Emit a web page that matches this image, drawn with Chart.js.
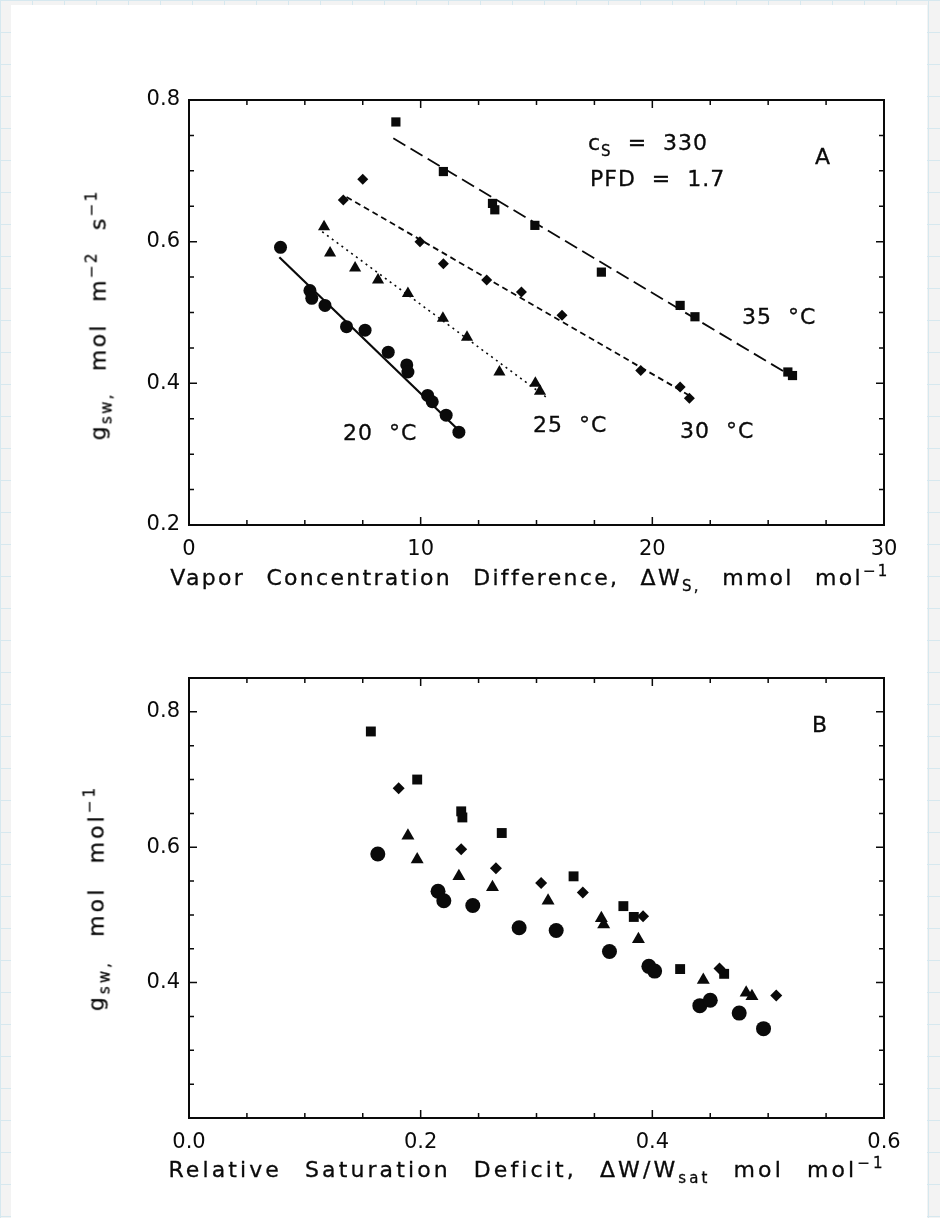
<!DOCTYPE html>
<html>
<head>
<meta charset="utf-8">
<script src="https://cdn.jsdelivr.net/npm/chart.js@4"></script>
<style>
  html, body { margin: 0; padding: 0; }
  body {
    width: 940px; height: 1218px; overflow: hidden; position: relative;
    background-color: #f3f3f3;
    background-image:
      linear-gradient(to right, #d6e8ef 1px, transparent 1px),
      linear-gradient(to bottom, #d6e8ef 1px, transparent 1px);
    background-size: 32px 32px;
    font-family: "DejaVu Sans", sans-serif;
    color: #0a0a0a;
  }
  .sheet { position: absolute; left: 11px; top: 5px; width: 916px; height: 1213px; background: #fff; }
  canvas { position: absolute; left: 0; }
  #chartA { top: 0; }
  #chartB { top: 610px; }
  .txt { position: absolute; white-space: nowrap; transform: translate(-50%, -50%); font-size: 22px; -webkit-text-stroke: 0.3px #0a0a0a; }
  .note { transform: translate(0, -50%); font-size: 22px; letter-spacing: 1px; }
  .ttl { letter-spacing: 2.3px; word-spacing: 12px; }
  .ttlB { letter-spacing: 3.1px; word-spacing: 13px; }
  .rot { transform: translate(-50%, -50%) rotate(-90deg); }
  sub { font-size: 15px; vertical-align: -6px; }
  sup { font-size: 15px; vertical-align: 9px; }
</style>
</head>
<body>
<div class="sheet"></div>
<canvas id="chartA" width="940" height="610"></canvas>
<canvas id="chartB" width="940" height="608"></canvas>

<div class="txt rot ttl" style="left:99px; top:315px;">g<sub>sw,</sub> mol m<sup>−2</sup> s<sup>−1</sup></div>
<div class="txt ttl" style="left:530px; top:578px;">Vapor Concentration Difference, ΔW<sub>S,</sub> mmol mol<sup>−1</sup></div>
<div class="txt note" style="left:588px; top:145px;">c<sub>S</sub> &nbsp;= &nbsp;330</div>
<div class="txt note" style="left:590px; top:178px;">PFD &nbsp;= &nbsp;1.7</div>
<div class="txt note" style="left:815px; top:156px;">A</div>
<div class="txt note" style="left:742px; top:316px;">35 &nbsp;°C</div>
<div class="txt note" style="left:680px; top:430px;">30 &nbsp;°C</div>
<div class="txt note" style="left:533px; top:424px;">25 &nbsp;°C</div>
<div class="txt note" style="left:343px; top:432px;">20 &nbsp;°C</div>

<div class="txt rot ttlB" style="left:97px; top:898px;">g<sub>sw,</sub> mol mol<sup>−1</sup></div>
<div class="txt ttlB" style="left:527px; top:1170px;">Relative Saturation Deficit, ΔW/W<sub>sat</sub> mol mol<sup>−1</sup></div>
<div class="txt note" style="left:812px; top:724px;">B</div>

<script>
// Panel A: g_sw vs vapour concentration difference, one series per leaf temperature
const dw20 = [3.95, 5.22, 5.3, 5.87, 6.8, 7.6, 8.6, 9.4, 9.45, 10.3, 10.5, 11.1, 11.65];
const gsw20 = [0.592, 0.531, 0.52, 0.51, 0.48, 0.475, 0.444, 0.426, 0.416, 0.383, 0.374, 0.355, 0.331];
const dw25 = [5.83, 6.09, 7.17, 8.16, 9.45, 10.96, 12.0, 13.4, 14.95, 15.15];
const gsw25 = [0.621, 0.584, 0.563, 0.546, 0.527, 0.492, 0.465, 0.416, 0.400, 0.389];
const dw30 = [6.66, 7.5, 9.97, 10.98, 12.85, 14.35, 16.1, 19.5, 21.2, 21.6];
const gsw30 = [0.659, 0.688, 0.600, 0.569, 0.546, 0.529, 0.496, 0.418, 0.395, 0.379];
const dw35 = [8.93, 10.98, 13.1, 13.2, 14.93, 17.8, 21.2, 21.84, 25.85, 26.05];
const gsw35 = [0.769, 0.699, 0.654, 0.645, 0.623, 0.557, 0.510, 0.494, 0.416, 0.411];

// regression line end points
const fit20x = [3.9, 11.7],   fit20y = [0.578, 0.332];
const fit25x = [5.75, 15.4],  fit25y = [0.614, 0.381];
const fit30x = [6.8, 21.75],  fit30y = [0.663, 0.380];
const fit35x = [8.82, 26.07], fit35y = [0.746, 0.409];

// Panel B: g_sw vs relative saturation deficit
const rsd20 = [0.163, 0.215, 0.220, 0.245, 0.285, 0.317, 0.363, 0.397, 0.402, 0.441, 0.450, 0.475, 0.496];
const g20 = [0.590, 0.535, 0.521, 0.514, 0.481, 0.477, 0.446, 0.424, 0.417, 0.366, 0.374, 0.355, 0.332];
const rsd25 = [0.189, 0.197, 0.233, 0.262, 0.310, 0.356, 0.358, 0.388, 0.444, 0.481, 0.486];
const g25 = [0.617, 0.582, 0.557, 0.541, 0.521, 0.495, 0.486, 0.464, 0.404, 0.385, 0.380];
const rsd30 = [0.181, 0.235, 0.265, 0.304, 0.340, 0.392, 0.458, 0.507];
const g30 = [0.687, 0.597, 0.569, 0.547, 0.533, 0.498, 0.421, 0.381];
const rsd35 = [0.157, 0.197, 0.235, 0.236, 0.270, 0.332, 0.375, 0.384, 0.424, 0.462];
const g35 = [0.771, 0.700, 0.653, 0.644, 0.621, 0.557, 0.513, 0.497, 0.420, 0.413];

// tick labels
const xLabelsA = [0, 10, 20, 30];
const yLabelsA = [0.2, 0.4, 0.6, 0.8];
const xLabelsB = [0.0, 0.2, 0.4, 0.6];
const yLabelsB = [0.4, 0.6, 0.8];

const ink = '#0a0a0a';
const tickFont = { family: 'DejaVu Sans', size: 21 };

function pts(xs, ys) {
  return xs.map((x, i) => ({ x: x, y: ys[i] }));
}

function labeler(list, digits) {
  return function (v) {
    const r = Math.round(v * 1000) / 1000;
    return list.some(l => Math.abs(l - r) < 1e-6) ? r.toFixed(digits) : '';
  };
}

// box round the plot and inward ticks on all four sides
const frameTicks = {
  id: 'frameTicks',
  afterDraw(chart) {
    const { ctx, chartArea: a, scales } = chart;
    ctx.save();
    ctx.strokeStyle = ink;
    ctx.lineWidth = 2;
    ctx.strokeRect(a.left, a.top, a.right - a.left, a.bottom - a.top);
    ctx.lineWidth = 1.5;
    ctx.beginPath();
    scales.x.ticks.forEach((t, i) => {
      const p = scales.x.getPixelForTick(i);
      const len = t.label ? 8 : 5;
      ctx.moveTo(p, a.bottom); ctx.lineTo(p, a.bottom - len);
      ctx.moveTo(p, a.top); ctx.lineTo(p, a.top + len);
    });
    scales.y.ticks.forEach((t, i) => {
      const p = scales.y.getPixelForTick(i);
      const len = t.label ? 8 : 5;
      ctx.moveTo(a.left, p); ctx.lineTo(a.left + len, p);
      ctx.moveTo(a.right, p); ctx.lineTo(a.right - len, p);
    });
    ctx.stroke();
    ctx.restore();
  }
};

function axis(min, max, step, list, digits, size, isX) {
  return {
    type: 'linear',
    min: min, max: max,
    grid: { display: false, drawTicks: false },
    border: { display: false },
    ticks: {
      stepSize: step, autoSkip: false, maxRotation: 0,
      color: ink, font: tickFont, padding: isX ? 12 : 9,
      callback: labeler(list, digits)
    },
    afterFit(scale) {
      if (isX) scale.height = size; else scale.width = size;
    }
  };
}

function marks(data, style, r) {
  return {
    type: 'scatter', data: data, pointStyle: style, pointRadius: r,
    backgroundColor: ink, borderColor: ink, borderWidth: 0, showLine: false
  };
}

function fit(data, dash, w) {
  return {
    type: 'line', data: data, borderColor: ink, borderWidth: w, borderDash: dash,
    pointRadius: 0, fill: false, tension: 0
  };
}

const common = {
  responsive: false,
  animation: false,
  plugins: { legend: { display: false }, tooltip: { enabled: false } }
};

new Chart(document.getElementById('chartA'), {
  type: 'scatter',
  data: {
    datasets: [
      fit(pts(fit20x, fit20y), [], 2.2),
      fit(pts(fit25x, fit25y), [2, 4], 1.6),
      fit(pts(fit30x, fit30y), [6, 4], 1.8),
      fit(pts(fit35x, fit35y), [14, 6], 1.8),
      marks(pts(dw20, gsw20), 'circle', 6.5),
      marks(pts(dw25, gsw25), 'triangle', 7),
      marks(pts(dw30, gsw30), 'rectRot', 5.5),
      marks(pts(dw35, gsw35), 'rect', 6.5)
    ]
  },
  options: Object.assign({}, common, {
    layout: { padding: { left: 0, top: 100, right: 56, bottom: 0 } },
    scales: {
      x: axis(0, 30, 2.5, xLabelsA, 0, 85, true),
      y: axis(0.2, 0.8, 0.05, yLabelsA, 1, 189, false)
    }
  }),
  plugins: [frameTicks]
});

new Chart(document.getElementById('chartB'), {
  type: 'scatter',
  data: {
    datasets: [
      marks(pts(rsd20, g20), 'circle', 7.5),
      marks(pts(rsd25, g25), 'triangle', 7.5),
      marks(pts(rsd30, g30), 'rectRot', 6),
      marks(pts(rsd35, g35), 'rect', 7)
    ]
  },
  options: Object.assign({}, common, {
    layout: { padding: { left: 0, top: 68, right: 56, bottom: 0 } },
    scales: {
      x: axis(0, 0.6, 0.05, xLabelsB, 1, 100, true),
      y: axis(0.2, 0.85, 0.05, yLabelsB, 1, 189, false)
    }
  }),
  plugins: [frameTicks]
});
</script>
</body>
</html>
